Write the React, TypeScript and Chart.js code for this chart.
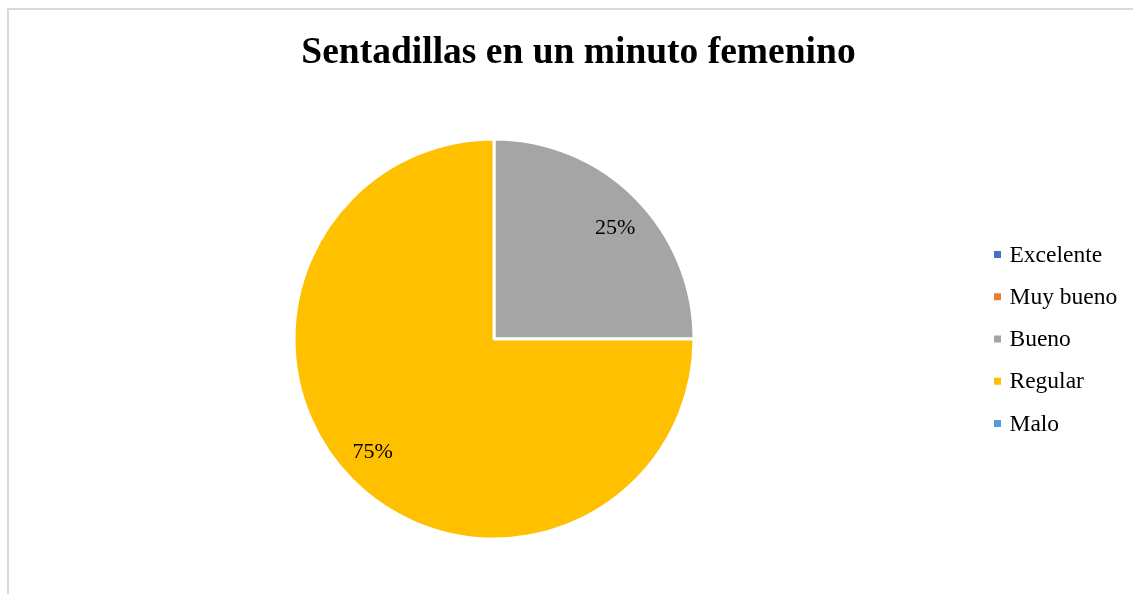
import React, { useEffect, useRef } from "react";
import { Chart, registerables } from "chart.js";

Chart.register(...registerables);

const titleText = "Sentadillas en un minuto femenino";
const categories = ["Excelente", "Muy bueno", "Bueno", "Regular", "Malo"];
const values = [0, 0, 1, 3, 0];
const colors = ["#4472C4", "#ED7D31", "#A5A5A5", "#FFC000", "#5B9BD5"];

const W = 1133;
const H = 594;
const SERIF = '"Liberation Serif", "Times New Roman", serif';

const framePlugin = {
  id: "frame",
  beforeDraw(chart: any) {
    const ctx = chart.ctx;
    ctx.save();
    ctx.fillStyle = "#ffffff";
    ctx.fillRect(0, 0, W, H);
    ctx.strokeStyle = "#d9d9d9";
    ctx.lineWidth = 2;
    ctx.beginPath();
    ctx.moveTo(8, H + 5);
    ctx.lineTo(8, 9);
    ctx.lineTo(W + 5, 9);
    ctx.stroke();
    ctx.restore();
  },
};

const titlePlugin = {
  id: "customTitle",
  afterDraw(chart: any) {
    const ctx = chart.ctx;
    ctx.save();
    ctx.font = `bold 37.5px ${SERIF}`;
    ctx.fillStyle = "#000000";
    ctx.textAlign = "center";
    ctx.textBaseline = "alphabetic";
    ctx.fillText(titleText, 578.5, 63);
    ctx.restore();
  },
};

const legendPlugin = {
  id: "customLegend",
  afterDraw(chart: any) {
    const ctx = chart.ctx;
    ctx.save();
    ctx.font = `23.5px ${SERIF}`;
    ctx.textAlign = "left";
    ctx.textBaseline = "middle";
    categories.forEach((label, i) => {
      const cy = 254.5 + i * 42.25;
      ctx.fillStyle = colors[i];
      ctx.fillRect(994, cy - 3.5, 7, 7);
      ctx.fillStyle = "#000000";
      ctx.fillText(label, 1009.5, cy + 1);
    });
    ctx.restore();
  },
};

const sliceLabelPlugin = {
  id: "sliceLabels",
  afterDatasetsDraw(chart: any) {
    const ctx = chart.ctx;
    const meta = chart.getDatasetMeta(0);
    const data = chart.data.datasets[0].data as number[];
    const total = data.reduce((a, b) => a + b, 0);
    ctx.save();
    ctx.font = `22px ${SERIF}`;
    ctx.fillStyle = "#000000";
    ctx.textAlign = "center";
    ctx.textBaseline = "middle";
    meta.data.forEach((arc: any, i: number) => {
      const v = data[i];
      if (!v) return;
      const p = arc.getProps(["x", "y", "startAngle", "endAngle", "outerRadius"], true);
      const mid = (p.startAngle + p.endAngle) / 2 + 0.04;
      const r = p.outerRadius * 0.825;
      const x = p.x + Math.cos(mid) * r;
      const y = p.y + Math.sin(mid) * r;
      ctx.fillText(`${Math.round((v / total) * 100)}%`, x, y + 1.5);
    });
    ctx.restore();
  },
};

export default function App() {
  const ref = useRef<HTMLCanvasElement | null>(null);

  useEffect(() => {
    if (!ref.current) return;
    const chart = new Chart(ref.current, {
      type: "pie",
      data: {
        labels: categories,
        datasets: [
          {
            data: values,
            backgroundColor: colors,
            borderColor: "#ffffff",
            borderWidth: 3,
          },
        ],
      },
      options: {
        responsive: false,
        animation: false,
        radius: 200,
        layout: { padding: { left: 295, right: 440, top: 140, bottom: 56 } },
        plugins: {
          legend: { display: false },
          title: { display: false },
          tooltip: { enabled: false },
        },
      } as any,
      plugins: [framePlugin, titlePlugin, legendPlugin, sliceLabelPlugin],
    });
    return () => chart.destroy();
  }, []);

  return (
    <div style={{ position: "fixed", left: 0, top: 0, width: W, height: H, overflow: "hidden", background: "#fff" }}>
      <canvas ref={ref} width={W} height={H} style={{ width: W, height: H, display: "block" }} />
    </div>
  );
}
